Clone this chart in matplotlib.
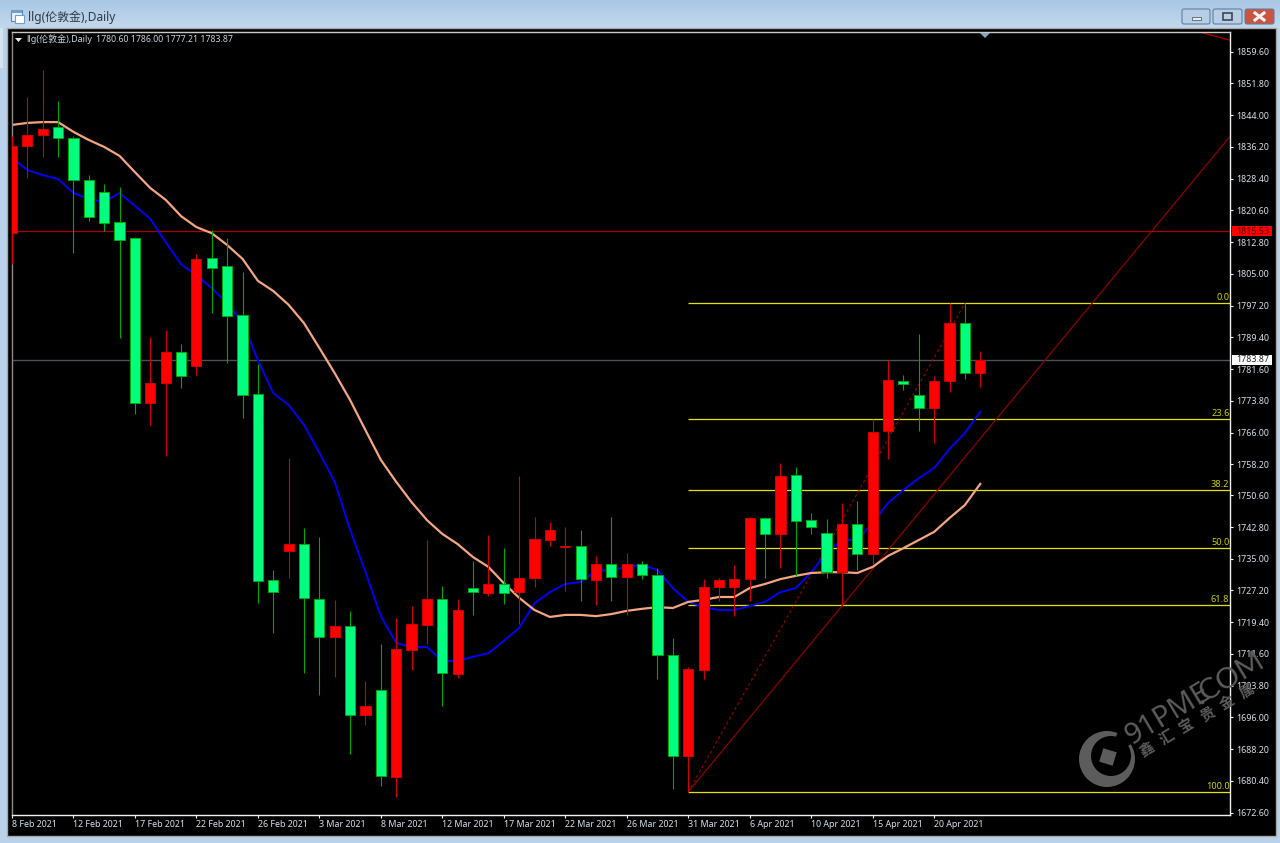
import matplotlib
matplotlib.use('Agg')
import matplotlib.pyplot as plt
import numpy as np
from matplotlib.patches import Rectangle, FancyBboxPatch, Circle, Polygon, Wedge

plt.rcParams['font.family'] = ['Noto Sans', 'Noto Sans CJK SC', 'DejaVu Sans']

# Daily candles
opens = [1815.0, 1836.4, 1839.1, 1841.1, 1838.4, 1828.1, 1825.1, 1817.7, 1813.8, 1773.3,
         1778.2, 1785.8, 1782.4, 1808.9, 1806.9, 1794.9, 1775.5, 1729.8, 1736.9, 1738.6,
         1725.1, 1715.8, 1718.5, 1696.6, 1702.8, 1681.4, 1712.6, 1718.7, 1725.1, 1706.7,
         1727.8, 1726.6, 1728.8, 1726.8, 1730.3, 1739.6, 1737.9, 1738.1, 1729.8, 1733.7,
         1730.5, 1733.7, 1731.0, 1711.3, 1686.5, 1707.7, 1728.1, 1728.1, 1730.0, 1745.0,
         1741.1, 1755.6, 1744.5, 1741.3, 1731.7, 1743.5, 1736.2, 1766.4, 1778.7, 1775.2,
         1772.0, 1778.7, 1792.9, 1780.60]
highs = [1838.9, 1848.5, 1855.1, 1847.5, 1838.9, 1829.3, 1827.1, 1826.3, 1814.1, 1789.5,
         1791.2, 1787.8, 1809.9, 1815.8, 1813.8, 1805.5, 1782.9, 1732.2, 1759.8, 1742.6,
         1740.3, 1724.9, 1722.2, 1705.0, 1714.1, 1720.4, 1723.4, 1739.6, 1728.3, 1725.1,
         1734.4, 1740.8, 1737.6, 1755.3, 1745.3, 1744.0, 1742.8, 1742.1, 1735.7, 1745.3,
         1736.4, 1734.4, 1732.7, 1715.5, 1708.4, 1730.0, 1730.3, 1733.5, 1745.3, 1745.3,
         1758.5, 1757.5, 1746.2, 1744.8, 1748.7, 1749.2, 1769.3, 1783.8, 1780.2, 1790.2,
         1779.9, 1797.8, 1797.8, 1786.00]
lows = [1807.4, 1828.6, 1833.7, 1833.7, 1810.1, 1818.0, 1815.5, 1789.2, 1770.6, 1767.9,
        1760.2, 1777.0, 1780.2, 1795.4, 1783.1, 1769.6, 1724.1, 1716.8, 1730.3, 1706.9,
        1701.5, 1705.9, 1687.0, 1694.2, 1679.2, 1676.5, 1707.7, 1714.1, 1698.8, 1705.7,
        1721.2, 1725.8, 1723.9, 1719.0, 1728.1, 1738.1, 1727.1, 1724.6, 1723.6, 1724.6,
        1721.2, 1730.0, 1705.5, 1678.4, 1677.7, 1705.5, 1724.6, 1720.9, 1724.6, 1730.3,
        1732.7, 1730.8, 1741.1, 1730.3, 1723.4, 1732.2, 1733.7, 1759.5, 1776.5, 1766.4,
        1763.4, 1776.0, 1779.2, 1777.21]
closes = [1836.4, 1839.1, 1840.6, 1838.4, 1828.1, 1819.0, 1817.5, 1813.3, 1773.3, 1778.2,
          1785.8, 1779.9, 1808.7, 1806.4, 1794.7, 1775.2, 1729.5, 1726.8, 1738.6, 1725.4,
          1715.8, 1718.5, 1696.6, 1698.8, 1681.6, 1712.8, 1719.0, 1725.1, 1706.9, 1722.4,
          1726.8, 1728.8, 1726.6, 1730.3, 1739.8, 1742.1, 1738.1, 1730.0, 1733.7, 1730.5,
          1733.7, 1731.0, 1711.3, 1686.5, 1707.9, 1728.1, 1729.8, 1730.0, 1745.0, 1741.1,
          1755.3, 1744.3, 1742.8, 1731.7, 1743.5, 1736.2, 1766.1, 1778.9, 1777.9, 1772.0,
          1778.7, 1792.9, 1780.6, 1783.87]

# Moving averages
ma_fast = [1833.5, 1830.5, 1829.3, 1828.3, 1824.9, 1823.4, 1822.7, 1824.9, 1821.7, 1818.5,
           1812.8, 1807.4, 1804.7, 1801.5, 1797.8, 1793.2, 1783.8, 1775.7, 1772.8, 1767.9,
           1761.0, 1753.9, 1742.1, 1731.7, 1720.9, 1714.3, 1713.3, 1713.3, 1709.9, 1709.9,
           1710.9, 1711.8, 1714.8, 1718.0, 1724.1, 1726.8, 1728.8, 1729.3, 1732.0, 1732.2,
           1733.0, 1733.5, 1732.2, 1727.8, 1724.4, 1723.1, 1722.4, 1722.4, 1723.4, 1724.4,
           1726.8, 1727.8, 1731.7, 1736.4, 1739.6, 1739.6, 1743.8, 1748.7, 1751.9, 1754.8,
           1757.3, 1762.0, 1765.9, 1771.1]
ma_slow = [1841.6, 1842.1, 1842.3, 1842.3, 1839.9, 1837.9, 1836.2, 1834.0, 1830.0, 1826.1,
           1823.2, 1819.2, 1816.5, 1815.0, 1812.1, 1808.7, 1803.3, 1800.8, 1797.4, 1792.9,
           1786.8, 1780.6, 1774.0, 1766.6, 1759.3, 1753.9, 1748.9, 1744.5, 1741.1, 1738.6,
           1735.4, 1733.0, 1729.0, 1725.4, 1722.4, 1720.7, 1721.2, 1721.2, 1720.9, 1721.4,
           1722.2, 1722.7, 1723.1, 1722.9, 1724.4, 1724.9, 1725.6, 1725.6, 1727.8, 1728.8,
           1730.0, 1730.8, 1731.5, 1731.7, 1731.7, 1731.5, 1733.0, 1735.7, 1737.6, 1739.6,
           1741.6, 1745.0, 1748.2, 1753.4]

# Axis labels
date_bars = [0, 4, 8, 12, 16, 20, 24, 28, 32, 36, 40, 44, 48, 52, 56, 60]
date_labels = ['8 Feb 2021', '12 Feb 2021', '17 Feb 2021', '22 Feb 2021', '26 Feb 2021', '3 Mar 2021',
               '8 Mar 2021', '12 Mar 2021', '17 Mar 2021', '22 Mar 2021', '26 Mar 2021', '31 Mar 2021',
               '6 Apr 2021', '10 Apr 2021', '15 Apr 2021', '20 Apr 2021']
price_ticks = [1859.60, 1851.80, 1844.00, 1836.20, 1828.40, 1820.60, 1812.80, 1805.00, 1797.20,
               1789.40, 1781.60, 1773.80, 1766.00, 1758.20, 1750.60, 1742.80, 1735.00, 1727.20,
               1719.40, 1711.60, 1703.80, 1696.00, 1688.20, 1680.40, 1672.60]

# Fibonacci and level lines
fib_high = 1797.8
fib_low = 1677.6
fib_levels = [0.0, 23.6, 38.2, 50.0, 61.8, 100.0]
fib_start_bar = 44
red_level = 1815.53
last_price = 1783.87

# Trend lines
dash_bars = [44, 62]
dash_prices = [1677.7, 1797.8]
ray_bars = [44, 54]
ray_prices = [1677.7, 1723.4]
corner_bars = [77.3, 79.3]
corner_prices = [1864.4, 1862.4]

W, H = 1280, 843
fig = plt.figure(figsize=(W / 100, H / 100), dpi=100, facecolor='#b9d1ea')

# Window frame, in pixels
bg = fig.add_axes([0, 0, 1, 1], zorder=0)
grad = np.linspace(0, 1, 28)[:, None]
bg.imshow(grad, extent=(0, W, 28, 0), cmap=matplotlib.colors.LinearSegmentedColormap.from_list('t', ['#a9c8e4', '#c3d8ec']),
          aspect='auto', zorder=1)
bg.set_xlim(0, W)
bg.set_ylim(H, 0)
bg.axis('off')
bg.add_patch(Rectangle((7, 28), 1269, 808, fc='#000000', ec='#a8a8a8', lw=1.0, zorder=2))
bg.add_patch(Rectangle((0, 28), 3, 40, fc='#d5e3f1', ec='none', zorder=1))

# Title bar icon and text
bg.add_patch(Rectangle((11, 10), 11, 11, fc='#e8f1fb', ec='#5b86b5', lw=0.8, zorder=3))
bg.add_patch(Rectangle((11, 10), 11, 3, fc='#6f9fd0', ec='none', zorder=3))
bg.add_patch(Rectangle((15, 15), 9, 8, fc='#ffffff', ec='#6f9fd0', lw=0.8, zorder=3))
bg.text(28, 17, 'llg(伦敦金),Daily', fontsize=8.6, color='#2f3b48', va='center', ha='left', zorder=3)

# Window buttons
btn_boxes = [(1182, 28, '#b7cee6'), (1213, 29, '#b7cee6'), (1245, 29, '#c9543f')]
for bx, bw, col in btn_boxes:
    bg.add_patch(FancyBboxPatch((bx, 9), bw, 15, boxstyle='round,pad=0,rounding_size=2', fc=col, ec='#5f7f9f', lw=0.8, zorder=3))
bg.add_patch(Rectangle((1192, 17), 9, 3, fc='#e4edf6', ec='#56626e', lw=0.6, zorder=4))
bg.add_patch(Rectangle((1223, 13), 9, 7, fc='none', ec='#3c4650', lw=1.2, zorder=4))
bg.plot([1255, 1264], [13, 20], color='#f4f4f4', lw=2.2, zorder=4)
bg.plot([1255, 1264], [20, 13], color='#f4f4f4', lw=2.2, zorder=4)

# Main chart
left, right, top, bottom = 11.5, 1230, 32, 815
ax = fig.add_axes([left / W, 1 - bottom / H, (right - left) / W, (bottom - top) / H], zorder=1)
ax.set_facecolor('#000000')
ax.set_xlim(-0.03, 79.25)
ax.set_ylim(1672.03, 1864.44)

bars = np.arange(len(opens))
opens_arr = np.array(opens)
closes_arr = np.array(closes)
is_up = closes_arr >= opens_arr

# Level lines go behind everything else
ax.axhline(red_level, color='#a80000', lw=0.9, zorder=1)
ax.axhline(last_price, color='#4b5159', lw=1.0, zorder=1)

x_end = ax.get_xlim()[1]
for level in fib_levels:
    p = fib_high - (fib_high - fib_low) * level / 100
    ax.plot([fib_start_bar, x_end], [p, p], color='#e4e400', lw=0.9, zorder=1.2, solid_capstyle='butt')
    ax.text(x_end - 0.04, p + 0.25, f'{level:.1f}', color='#d0d000', fontsize=6.6, ha='right', va='bottom', zorder=1.3)

# Trend lines
ax.plot(dash_bars, dash_prices, color='#a00000', lw=0.8, ls=(0, (2.5, 2.5)), zorder=1.5)
slope = (ray_prices[1] - ray_prices[0]) / (ray_bars[1] - ray_bars[0])
ax.plot([ray_bars[0], x_end + 2], [ray_prices[0], ray_prices[0] + slope * (x_end + 2 - ray_bars[0])],
        color='#900000', lw=0.9, zorder=1.5)
ax.plot(corner_bars, corner_prices, color='#a00000', lw=1.0, zorder=1.5)

# Moving averages
ax.plot(bars, ma_fast, color='#0000ff', lw=1.35, zorder=2)
ax.plot(bars, ma_slow, color='#f4a582', lw=1.6, zorder=2)

# Candles: red closes higher, green closes lower
wick_cols = ['#d40000' if up else '#00a800' for up in is_up]
ax.vlines(bars, lows, highs, colors=wick_cols, lw=0.8, zorder=3)
ax.bar(bars[is_up], (closes_arr - opens_arr)[is_up], bottom=opens_arr[is_up], width=0.66,
       color='#ff0000', edgecolor='#d00000', linewidth=0.7, zorder=4)
ax.bar(bars[~is_up], (opens_arr - closes_arr)[~is_up], bottom=closes_arr[~is_up], width=0.66,
       color='#00ff7f', edgecolor='#00a800', linewidth=0.7, zorder=4)

# Axes styling
for side in ['bottom', 'right']:
    ax.spines[side].set_color('#f0f0f0')
ax.spines['top'].set_color('#c8c8c8')
ax.spines['left'].set_color('#8c8c8c')
for side in ax.spines:
    ax.spines[side].set_linewidth(1.0)
ax.yaxis.tick_right()
ax.set_yticks(price_ticks)
ax.set_yticklabels([f'{p:.2f}' for p in price_ticks])
ax.set_xticks(date_bars)
ax.set_xticklabels(date_labels, ha='left')
ax.tick_params(axis='y', colors='#f0f0f0', labelcolor='#d8dfe7', labelsize=6.4, length=2.2, width=0.8, pad=2)
ax.tick_params(axis='x', colors='#f0f0f0', labelcolor='#d8dfe7', labelsize=6.4, length=2.2, width=0.8, pad=1.5)

# Price tags on the scale
trans = ax.get_yaxis_transform()
for level, face, ink in [(red_level, '#ff0000', '#4a0000'), (last_price, '#ffffff', '#222222')]:
    ax.add_patch(Rectangle((1.0016, level - 1.25), 0.0328, 2.5, transform=trans, fc=face, ec='none', clip_on=False, zorder=6))
    ax.text(1.0052, level, f'{level:.2f}', transform=trans, color=ink, fontsize=6.4, ha='left', va='center',
            clip_on=False, zorder=7)

# Overlay in pixels: header line, top marker and watermark
top_ax = fig.add_axes([0, 0, 1, 1], zorder=2)
top_ax.set_xlim(0, W)
top_ax.set_ylim(H, 0)
top_ax.axis('off')
top_ax.patch.set_alpha(0)

top_ax.add_patch(Polygon([(15, 38), (22, 38), (18.5, 42)], fc='#e8e8e8', ec='none'))
top_ax.text(26, 39.5, 'llg(伦敦金),Daily', color='#c8d0d8', fontsize=6.5, va='center', ha='left')
top_ax.text(96, 39.5, '1780.60 1786.00 1777.21 1783.87', color='#c8d0d8', fontsize=6.3, va='center', ha='left')
top_ax.add_patch(Polygon([(980, 33), (990, 33), (985, 38)], fc='#8ea4b8', ec='none'))

mark = '#5c5c5c'
top_ax.add_patch(Circle((1107, 759), 28, fc=mark, ec='none'))
top_ax.add_patch(Circle((1111, 756), 20, fc='#000000', ec='none'))
top_ax.add_patch(Wedge((1107, 759), 30, 292, 328, fc='#000000', ec='none'))
sq_x = np.array([-7, 7, 7, -7]) * np.cos(0.3) - np.array([-7, -7, 7, 7]) * np.sin(0.3) + 1108
sq_y = np.array([-7, 7, 7, -7]) * np.sin(0.3) + np.array([-7, -7, 7, 7]) * np.cos(0.3) + 757
top_ax.add_patch(Polygon(list(zip(sq_x, sq_y)), fc=mark, ec='none'))
top_ax.text(1128, 739, '91PME', color=mark, fontsize=21, fontweight='bold', rotation=31,
            rotation_mode='anchor', ha='left', va='center')
top_ax.text(1196, 698, '.COM', color=mark, fontsize=21, rotation=31, rotation_mode='anchor', ha='left', va='center',
            family='Lato')
for k, ch in enumerate('鑫汇宝贵金属'):
    top_ax.text(1147 + 20.2 * k, 750 - 11.6 * k, ch, color=mark, fontsize=10.5, fontweight='bold', rotation=31,
                rotation_mode='anchor', ha='center', va='center')

fig.savefig('out.png', dpi=100, facecolor=fig.get_facecolor())
